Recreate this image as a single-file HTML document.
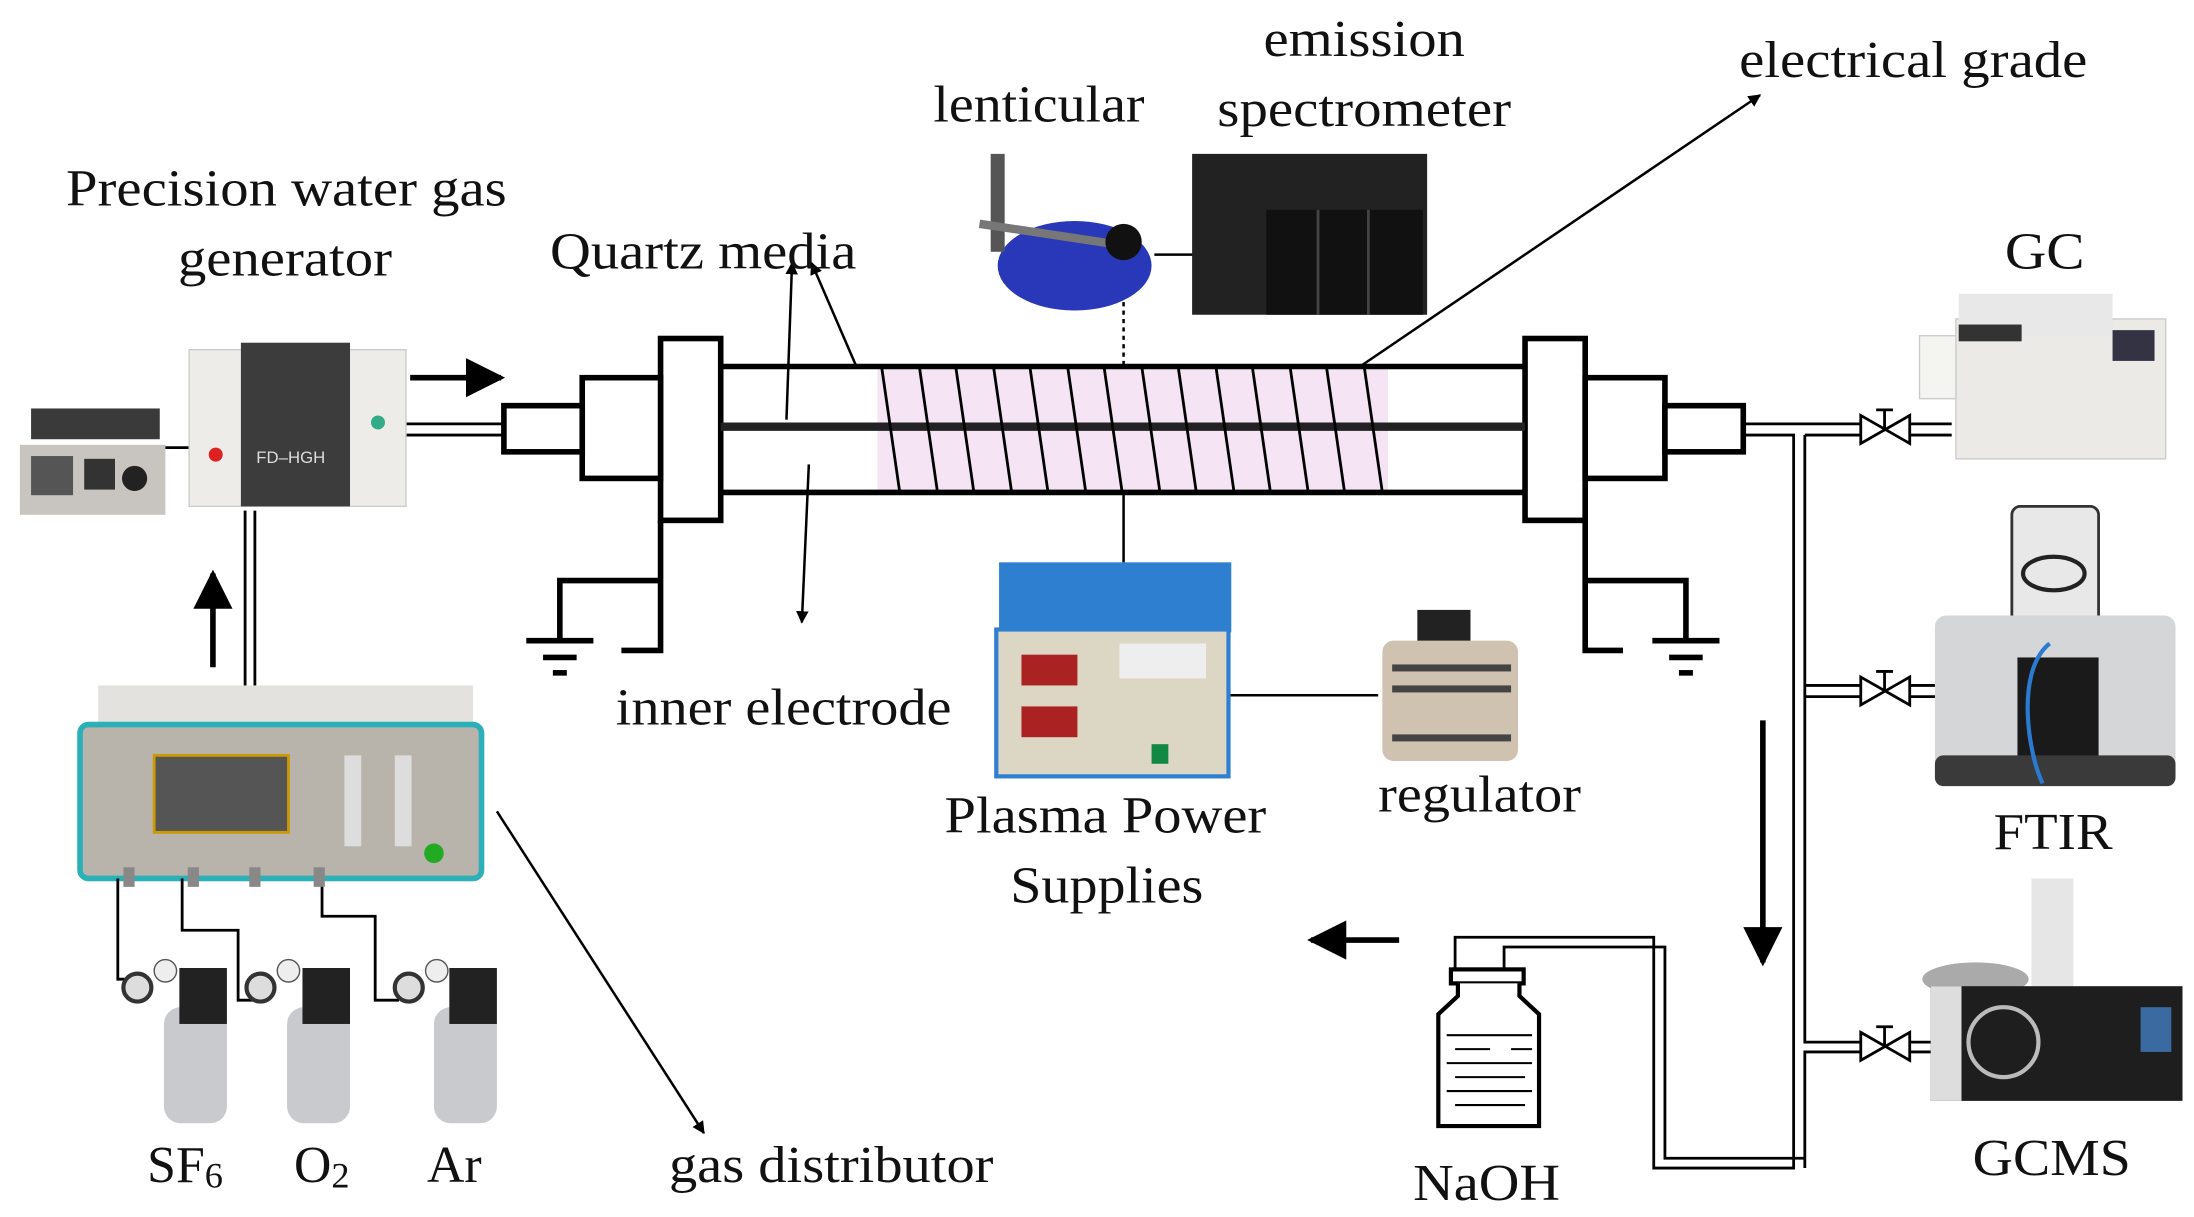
<!DOCTYPE html>
<html><head><meta charset="utf-8"><style>
html,body{margin:0;padding:0;background:#fff;}
svg{display:block}
text{font-family:"Liberation Serif",serif;fill:#111;}
</style></head><body>
<svg width="2194" height="1217" viewBox="0 0 1568 870" xmlns="http://www.w3.org/2000/svg">
<defs>
<marker id="ah" viewBox="0 0 10 10" refX="9" refY="5" markerWidth="7" markerHeight="7" orient="auto"><path d="M0,0 L10,5 L0,10 z" fill="#000"/></marker>
<marker id="ahb" viewBox="0 0 10 10" refX="9" refY="5" markerWidth="5" markerHeight="5" orient="auto"><path d="M0,0 L10,5 L0,10 z" fill="#000"/></marker>
</defs>
<rect width="1568" height="870" fill="#fff"/>

<rect x="627" y="262" width="365" height="90" fill="#f4e4f4"/>
<g stroke="#000" stroke-width="4" fill="none">
<line x1="515" y1="262" x2="1090" y2="262"/>
<line x1="515" y1="352" x2="1090" y2="352"/>
<rect x="472" y="242" width="43" height="130" fill="#fff"/>
<rect x="416" y="270" width="56" height="72" fill="#fff"/>
<rect x="360" y="290" width="56" height="33" fill="#fff"/>
<rect x="1090" y="242" width="43" height="130" fill="#fff"/>
<rect x="1133" y="270" width="57" height="72" fill="#fff"/>
<rect x="1190" y="290" width="56" height="33" fill="#fff"/>
</g>
<line x1="515" y1="305" x2="1090" y2="305" stroke="#222" stroke-width="6"/>
<g stroke="#000" stroke-width="2">
<line x1="630" y1="262" x2="643" y2="352"/><line x1="657" y1="262" x2="670" y2="352"/>
<line x1="683" y1="262" x2="696" y2="352"/><line x1="710" y1="262" x2="723" y2="352"/>
<line x1="736" y1="262" x2="749" y2="352"/><line x1="763" y1="262" x2="776" y2="352"/>
<line x1="789" y1="262" x2="802" y2="352"/><line x1="816" y1="262" x2="829" y2="352"/>
<line x1="842" y1="262" x2="855" y2="352"/><line x1="869" y1="262" x2="882" y2="352"/>
<line x1="895" y1="262" x2="908" y2="352"/><line x1="922" y1="262" x2="935" y2="352"/>
<line x1="948" y1="262" x2="961" y2="352"/><line x1="975" y1="262" x2="988" y2="352"/>
</g>
<g stroke="#000" stroke-width="2"><line x1="290" y1="303" x2="360" y2="303"/><line x1="290" y1="311" x2="360" y2="311"/></g>
<line x1="293" y1="270" x2="358" y2="270" stroke="#000" stroke-width="4" marker-end="url(#ah)"/>
<g stroke="#000" stroke-width="4" fill="none">
<polyline points="472,372 472,465 444,465"/>
<polyline points="472,415 400,415 400,458"/>
<line x1="376" y1="458" x2="424" y2="458"/><line x1="388" y1="470" x2="412" y2="470"/><line x1="395" y1="481" x2="405" y2="481"/>
<polyline points="1133,372 1133,465 1160,465"/>
<polyline points="1133,415 1205,415 1205,458"/>
<line x1="1181" y1="458" x2="1229" y2="458"/><line x1="1193" y1="470" x2="1217" y2="470"/><line x1="1200" y1="481" x2="1210" y2="481"/>
</g>
<g stroke="#000" stroke-width="1.8" fill="none">
<line x1="562" y1="300" x2="566" y2="188" marker-end="url(#ahb)"/>
<line x1="612" y1="262" x2="580" y2="188" marker-end="url(#ahb)"/>
<line x1="578" y1="332" x2="573" y2="445" marker-end="url(#ahb)"/>
<line x1="972" y1="262" x2="1258" y2="68" marker-end="url(#ahb)"/>
<line x1="355" y1="580" x2="503" y2="810" marker-end="url(#ahb)"/>
<line x1="803" y1="180" x2="803" y2="262" stroke-dasharray="3,3"/>
<line x1="803" y1="352" x2="803" y2="402"/>
<line x1="878" y1="497" x2="985" y2="497"/>
<line x1="825" y1="182" x2="855" y2="182"/>
</g>

<g stroke="#000" stroke-width="2" fill="none">
<polyline points="1246,303 1330,303"/>
<polyline points="1246,311 1282,311 1282,835 1182,835 1182,670 1040,670 1040,700"/>
<polyline points="1290,835 1290,752 1330,752"/>
<polyline points="1290,311 1330,311"/>
<polyline points="1290,311 1290,745 1330,745"/>
<polyline points="1290,828 1190,828 1190,677 1075,677 1075,800"/>
<line x1="1290" y1="490" x2="1330" y2="490"/><line x1="1290" y1="498" x2="1330" y2="498"/>
<line x1="1365" y1="303" x2="1395" y2="303"/><line x1="1365" y1="311" x2="1395" y2="311"/>
<line x1="1365" y1="490" x2="1385" y2="490"/><line x1="1365" y1="498" x2="1385" y2="498"/>
<line x1="1365" y1="745" x2="1380" y2="745"/><line x1="1365" y1="752" x2="1380" y2="752"/>
</g>
<g stroke="#000" stroke-width="2" fill="#fff">
<path d="M1330,297 L1365,317 L1365,297 L1330,317 z"/><line x1="1347" y1="307" x2="1347" y2="293"/><line x1="1341" y1="293" x2="1353" y2="293"/>
<path d="M1330,484 L1365,504 L1365,484 L1330,504 z"/><line x1="1347" y1="494" x2="1347" y2="480"/><line x1="1341" y1="480" x2="1353" y2="480"/>
<path d="M1330,738 L1365,758 L1365,738 L1330,758 z"/><line x1="1347" y1="748" x2="1347" y2="734"/><line x1="1341" y1="734" x2="1353" y2="734"/>
</g>
<line x1="1260" y1="515" x2="1260" y2="688" stroke="#000" stroke-width="4" marker-end="url(#ah)"/>
<line x1="1000" y1="672" x2="937" y2="672" stroke="#000" stroke-width="4" marker-end="url(#ah)"/>
<g stroke="#000" stroke-width="3" fill="#fff">
<rect x="1037" y="693" width="52" height="10"/>
<path d="M1042,703 L1042,712 L1028,725 L1028,805 L1100,805 L1100,725 L1086,712 L1086,703"/>
</g>
<g stroke="#000" stroke-width="1.5">
<line x1="1034" y1="740" x2="1095" y2="740"/><line x1="1040" y1="750" x2="1065" y2="750"/><line x1="1080" y1="750" x2="1095" y2="750"/>
<line x1="1034" y1="760" x2="1095" y2="760"/><line x1="1040" y1="770" x2="1090" y2="770"/><line x1="1034" y1="780" x2="1095" y2="780"/><line x1="1040" y1="790" x2="1090" y2="790"/>
</g>

<rect x="14" y="318" width="104" height="50" fill="#c8c4c0"/>
<rect x="22" y="326" width="30" height="28" fill="#555"/>
<rect x="60" y="328" width="22" height="22" fill="#333"/>
<circle cx="96" cy="342" r="9" fill="#222"/>
<rect x="22" y="292" width="92" height="22" fill="#3a3a3a"/>
<line x1="118" y1="320" x2="135" y2="320" stroke="#000" stroke-width="2"/>
<rect x="135" y="250" width="155" height="112" fill="#eeece8" stroke="#ccc"/>
<rect x="172" y="245" width="78" height="117" fill="#3c3c3c"/>
<text x="183" y="331" font-family="Liberation Sans" font-size="12" style="fill:#ddd;font-family:'Liberation Sans',sans-serif">FD–HGH</text>
<circle cx="154" cy="325" r="5" fill="#d22"/>
<circle cx="270" cy="302" r="5" fill="#3a8"/>
<g stroke="#000" stroke-width="2"><line x1="175" y1="365" x2="175" y2="492"/><line x1="182" y1="365" x2="182" y2="492"/></g>
<line x1="152" y1="477" x2="152" y2="410" stroke="#000" stroke-width="4" marker-end="url(#ah)"/>
<rect x="70" y="490" width="268" height="30" fill="#e4e2de"/>
<rect x="57" y="518" width="287" height="110" rx="6" fill="#b8b4ac" stroke="#2bb0b8" stroke-width="4"/>
<rect x="110" y="540" width="96" height="55" fill="#555" stroke="#c90" stroke-width="2"/>
<rect x="246" y="540" width="12" height="65" fill="#ddd"/><rect x="282" y="540" width="12" height="65" fill="#ddd"/>
<circle cx="310" cy="610" r="7" fill="#2a2"/>
<g stroke="#000" stroke-width="2" fill="none">
<polyline points="84,628 84,700 100,700"/>
<polyline points="130,628 130,665 170,665 170,715 190,715"/>
<polyline points="230,628 230,655 268,655 268,715 285,715"/>
</g>
<g fill="#888"><rect x="88" y="620" width="8" height="14"/><rect x="134" y="620" width="8" height="14"/><rect x="178" y="620" width="8" height="14"/><rect x="224" y="620" width="8" height="14"/></g>
<g>
<rect x="117" y="720" width="45" height="83" rx="12" fill="#c8cace"/><rect x="128" y="692" width="34" height="40" fill="#222"/>
<circle cx="98" cy="706" r="10" fill="#ddd" stroke="#333" stroke-width="3"/><circle cx="118" cy="694" r="8" fill="#eee" stroke="#555"/>
<rect x="205" y="720" width="45" height="83" rx="12" fill="#c8cace"/><rect x="216" y="692" width="34" height="40" fill="#222"/>
<circle cx="186" cy="706" r="10" fill="#ddd" stroke="#333" stroke-width="3"/><circle cx="206" cy="694" r="8" fill="#eee" stroke="#555"/>
<rect x="310" y="720" width="45" height="83" rx="12" fill="#c8cace"/><rect x="321" y="692" width="34" height="40" fill="#222"/>
<circle cx="292" cy="706" r="10" fill="#ddd" stroke="#333" stroke-width="3"/><circle cx="312" cy="694" r="8" fill="#eee" stroke="#555"/>
</g>

<ellipse cx="768" cy="190" rx="55" ry="32" fill="#2838b8"/>
<rect x="708" y="110" width="10" height="70" fill="#555"/>
<line x1="700" y1="160" x2="800" y2="175" stroke="#777" stroke-width="6"/>
<circle cx="803" cy="173" r="13" fill="#111"/>
<rect x="852" y="110" width="168" height="115" fill="#222"/>
<rect x="905" y="150" width="112" height="75" fill="#111"/>
<g stroke="#444" stroke-width="2"><line x1="942" y1="150" x2="942" y2="225"/><line x1="978" y1="150" x2="978" y2="225"/></g>
<rect x="714" y="402" width="166" height="50" fill="#2f7fd0"/>
<rect x="712" y="450" width="166" height="105" fill="#dcd6c4" stroke="#2f7fd0" stroke-width="3"/>
<rect x="730" y="468" width="40" height="22" fill="#a22"/><rect x="730" y="505" width="40" height="22" fill="#a22"/>
<rect x="800" y="460" width="62" height="25" fill="#eee"/>
<rect x="823" y="532" width="12" height="14" fill="#184"/>
<rect x="1013" y="436" width="38" height="25" fill="#222"/>
<rect x="988" y="458" width="97" height="86" rx="8" fill="#cfc2b0"/>
<g fill="#444"><rect x="995" y="475" width="85" height="5"/><rect x="995" y="490" width="85" height="5"/><rect x="995" y="525" width="85" height="5"/></g>
<rect x="1398" y="228" width="150" height="100" fill="#eceae6" stroke="#ccc"/>
<rect x="1400" y="210" width="110" height="30" fill="#e8e8e8"/>
<rect x="1400" y="232" width="45" height="12" fill="#333"/>
<rect x="1510" y="236" width="30" height="22" fill="#334"/>
<rect x="1372" y="240" width="26" height="45" fill="#f4f4f0" stroke="#ccc"/>
<rect x="1438" y="362" width="62" height="95" rx="6" fill="#e8e8e8" stroke="#333" stroke-width="2"/>
<ellipse cx="1468" cy="410" rx="22" ry="12" fill="none" stroke="#222" stroke-width="3"/>
<rect x="1383" y="440" width="172" height="110" rx="8" fill="#d4d6d8"/>
<rect x="1442" y="470" width="58" height="80" fill="#1a1a1a"/>
<rect x="1383" y="540" width="172" height="22" rx="6" fill="#3a3a3a"/>
<path d="M1465,460 C1440,480 1450,540 1460,560" stroke="#2a7ad0" stroke-width="3" fill="none"/>
<rect x="1452" y="628" width="30" height="90" fill="#e6e6e6"/>
<ellipse cx="1412" cy="700" rx="38" ry="12" fill="#aaa"/>
<rect x="1380" y="705" width="180" height="82" fill="#1e1e1e"/>
<rect x="1380" y="705" width="22" height="82" fill="#ddd"/>
<circle cx="1432" cy="745" r="25" fill="none" stroke="#bbb" stroke-width="3"/>
<rect x="1530" y="720" width="22" height="32" fill="#3a6aa0"/>

<g font-size="37" lengthAdjust="spacingAndGlyphs">
<text x="47" y="147" textLength="315" lengthAdjust="spacingAndGlyphs">Precision water gas</text>
<text x="127" y="197" textLength="153" lengthAdjust="spacingAndGlyphs">generator</text>
<text x="393" y="192" textLength="219" lengthAdjust="spacingAndGlyphs">Quartz media</text>
<text x="667" y="87" textLength="151" lengthAdjust="spacingAndGlyphs">lenticular</text>
<text x="903" y="40" textLength="144" lengthAdjust="spacingAndGlyphs">emission</text>
<text x="870" y="90" textLength="210" lengthAdjust="spacingAndGlyphs">spectrometer</text>
<text x="1243" y="55" textLength="249" lengthAdjust="spacingAndGlyphs">electrical grade</text>
<text x="1433" y="192" textLength="57" lengthAdjust="spacingAndGlyphs">GC</text>
<text x="440" y="518" textLength="240" lengthAdjust="spacingAndGlyphs">inner electrode</text>
<text x="675" y="595" textLength="230" lengthAdjust="spacingAndGlyphs">Plasma Power</text>
<text x="722" y="645" textLength="138" lengthAdjust="spacingAndGlyphs">Supplies</text>
<text x="985" y="580" textLength="145" lengthAdjust="spacingAndGlyphs">regulator</text>
<text x="1425" y="607" textLength="85" lengthAdjust="spacingAndGlyphs">FTIR</text>
<text x="1410" y="840" textLength="113" lengthAdjust="spacingAndGlyphs">GCMS</text>
<text x="1010" y="858" textLength="105" lengthAdjust="spacingAndGlyphs">NaOH</text>
<text x="478" y="845" textLength="232" lengthAdjust="spacingAndGlyphs">gas distributor</text>
<text x="105" y="845">SF<tspan font-size="26" dy="4">6</tspan></text>
<text x="210" y="845">O<tspan font-size="26" dy="4">2</tspan></text>
<text x="305" y="845">Ar</text>
</g>
</svg>
</body></html>
